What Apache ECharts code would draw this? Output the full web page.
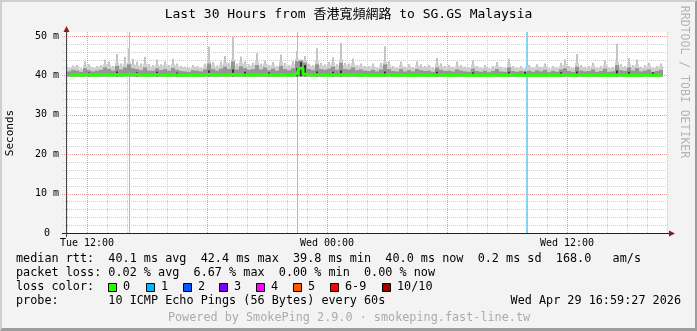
<!DOCTYPE html>
<html><head><meta charset="utf-8">
<script src="https://cdn.jsdelivr.net/npm/echarts@6/dist/echarts.min.js"></script>
<style>html,body{margin:0;padding:0;background:#f3f3f3}#c{width:697px;height:331px}</style>
</head><body><div id="c"></div><script>
// ---------------- data ----------------
const titleText = 'Last 30 Hours from 香港寬頻網路 to SG.GS Malaysia';
const xTickHours = [1, 13, 25];                 // hours after Tue 11:00
const xTickLabels = ['Tue 12:00', 'Wed 00:00', 'Wed 12:00'];
const yTickValues = [0, 10, 20, 30, 40, 50];    // ms
const yTickLabels = ['0', '10 m', '20 m', '30 m', '40 m', '50 m'];
const stepHours = 0.2;                          // one sample column = 12 min
const smokeBase = 39.6;                         // lowest ping (ms)
// median rtt per column (ms)
const medianRtt = [
 40.1,40.0,40.2,40.1,40.1,40.2,40.0,40.1,40.1,40.2,40.1,40.0,40.2,40.1,40.1,40.3,40.1,40.2,40.1,40.1,
 40.0,40.1,40.2,40.1,40.1,40.0,40.2,40.1,40.1,40.0,40.1,40.1,40.0,40.1,40.1,40.3,40.1,40.1,
 40.2,40.1,40.1,40.3,40.1,40.2,40.1,40.1,40.0,40.2,40.1,40.2,40.1,40.1,40.0,40.2,40.1,40.0,40.1,40.4,
 41.8,40.3,40.1,40.1,40.2,40.1,40.0,40.1,40.2,40.1,40.2,40.1,40.1,40.2,40.0,40.1,40.1,
 40.0,40.1,40.1,40.0,40.2,40.1,40.0,40.1,40.1,40.0,40.1,40.0,40.1,40.1,40.0,40.1,40.0,40.2,40.1,40.0,
 40.1,40.0,40.1,40.1,40.0,40.0,40.1,40.0,40.0,40.1,40.0,40.1,40.1,40.0,40.0,40.2,40.1,
 40.0,40.1,40.0,40.1,40.0,40.1,40.0,40.1,40.0,40.0,40.1,40.1,40.2,40.0,40.0,40.2,40.1,40.0,40.1,40.1,
 40.0,40.0,40.1,40.0,40.0,40.2,40.1,40.0,40.1,40.0,40.1,40.0,40.1,40.1,40.0,40.0,40.1
];
// inner (denser) smoke top per column (ms)
const smokeMid = [
 41.0,41.4,41.2,40.9,41.8,41.3,41.0,41.2,41.4,42.0,41.6,41.2,42.4,41.5,42.0,42.8,41.8,41.6,41.3,42.0,
 41.2,41.2,41.8,41.3,41.6,41.2,41.9,41.4,41.1,41.0,40.9,41.3,41.2,41.0,41.5,43.0,41.6,41.2,
 41.7,42.2,41.6,43.5,41.5,42.3,41.8,41.4,41.6,42.6,41.5,42.0,41.3,41.7,41.2,42.4,41.6,41.3,41.8,43.6,
 43.8,43.2,41.6,41.3,42.8,41.6,41.4,41.7,42.2,41.4,43.2,41.6,41.5,42.0,41.3,41.5,41.2,
 41.1,41.4,41.0,41.5,42.8,41.6,41.1,41.0,41.6,41.0,41.3,41.0,41.6,41.3,41.1,41.2,40.9,42.0,41.4,41.1,
 41.2,41.0,41.5,41.2,41.0,40.9,41.7,41.1,40.9,41.2,40.8,41.1,41.6,41.0,40.9,42.0,41.1,
 40.9,41.1,40.8,41.2,40.9,41.3,41.0,41.4,40.8,41.1,40.9,41.5,41.8,41.1,40.9,42.2,41.2,41.0,41.1,41.5,
 40.9,41.1,41.7,40.9,41.0,42.6,41.3,41.1,42.0,41.2,41.8,41.0,41.2,41.5,40.9,41.1,41.4
];
// outer smoke body top per column (ms)
const smokeBody = [
 41.8,42.2,42.3,41.6,42.6,42.4,41.8,42.1,42.3,42.8,42.7,42.1,43.2,42.5,43.0,43.4,42.9,42.6,42.4,43.0,
 42.3,42.2,42.8,42.4,42.7,42.2,42.9,42.5,42.1,41.9,41.7,42.2,42.1,41.8,42.5,43.6,42.7,42.2,
 42.7,43.3,42.6,44.0,42.5,43.4,42.9,42.4,42.6,43.6,42.5,43.0,42.3,42.7,42.1,43.5,42.6,42.3,42.8,44.2,
 43.9,43.8,42.6,42.3,43.6,42.6,42.4,42.7,43.3,42.4,44.0,42.6,42.5,43.1,42.3,42.5,42.1,
 42.0,42.4,41.8,42.5,43.4,42.7,42.0,41.8,42.6,41.9,42.3,41.8,42.6,42.3,42.0,42.2,41.7,43.0,42.4,42.0,
 42.2,41.9,42.5,42.2,41.9,41.8,42.7,42.0,41.8,42.2,41.6,42.0,42.5,41.9,41.8,43.0,42.0,
 41.7,42.0,41.6,42.2,41.8,42.3,41.9,42.4,41.6,42.0,41.8,42.4,42.8,42.0,41.8,43.2,42.2,41.9,42.0,42.5,
 41.8,42.0,42.7,41.8,41.9,43.4,42.3,42.0,43.0,42.2,42.8,41.9,42.2,42.5,41.8,42.0,42.4
];
// highest ping per column (ms)
const smokeMax = [
 42.0,42.5,42.6,41.8,43.5,42.8,42.0,42.4,42.6,44.0,43.5,42.4,45.4,43.0,44.7,46.8,44.2,43.5,43.0,44.7,
 42.9,42.6,44.0,42.8,43.5,42.6,44.2,43.0,42.4,42.2,41.9,42.6,42.4,42.0,43.0,47.3,43.4,42.5,
 43.5,44.9,43.2,49.8,43.0,44.8,43.6,42.8,43.2,45.7,43.0,43.8,42.6,43.4,42.4,45.3,43.2,42.6,43.6,46.2,
 44.0,44.9,43.0,42.6,46.9,43.2,42.8,43.4,44.6,42.8,48.2,43.2,43.0,44.2,42.6,43.0,42.4,
 42.4,43.0,42.0,43.2,47.4,43.6,42.4,42.0,43.5,42.2,42.8,42.0,43.6,42.8,42.4,42.6,42.0,44.4,43.0,42.4,
 42.6,42.2,43.5,42.6,42.2,42.0,43.8,42.4,42.0,42.6,41.8,42.4,43.4,42.2,42.0,44.2,42.4,
 42.0,42.4,41.8,42.6,42.0,42.8,42.2,43.0,41.8,42.4,42.0,43.2,44.0,42.4,42.0,45.4,42.6,42.2,42.4,43.2,
 42.0,42.4,43.8,42.0,42.2,48.0,42.8,42.4,44.4,42.6,44.0,42.2,42.6,43.2,42.0,42.4,43.0
];
// darkest smoke patches (column index, top ms)
const darkIdx = [5,12,17,22,27,35,41,44,50,57,58,59,62,66,68,79,92,101,110,114,123,127,137,140,146];
const darkTop = [40.7,41.0,40.8,40.9,40.7,41.2,41.5,40.9,40.8,41.8,43.4,42.6,41.0,40.9,41.2,41.0,40.9,40.8,40.9,41.0,40.8,41.0,41.2,40.9,40.8];
// packet loss events
const lossHours = [3.1, 11.5, 23.0];
const lossPct = [3.33, 3.33, 6.67];
// legend texts
const rttRow = 'median rtt:  40.1 ms avg  42.4 ms max  39.8 ms min  40.0 ms now  0.2 ms sd  168.0   am/s';
const lossRow = 'packet loss: 0.02 % avg  6.67 % max  0.00 % min  0.00 % now';
const colorRowLabel = 'loss color:';
const lossColorLabels = ['0', '1', '2', '3', '4', '5', '6-9', '10/10'];
const lossColors = ['#26ff00', '#00b8ff', '#0059ff', '#7e00ff', '#ff00ff', '#ff5500', '#ff0000', '#a10000'];
const probeRow = 'probe:       10 ICMP Echo Pings (56 Bytes) every 60s';
const dateText = 'Wed Apr 29 16:59:27 2026';
const poweredText = 'Powered by SmokePing 2.9.0 · smokeping.fast-line.tw';
const sideText = 'RRDTOOL / TOBI OETIKER';

// ---------------- layout / style ----------------
const MONO = '"DejaVu Sans Mono", "Noto Sans CJK TC", monospace';
const LEG_FONT = '11.8px ' + MONO;
const GRID_MINOR = '#cdcdcd', GRID_MAJOR = '#e79a9a';
const boxX = [108, 146, 183, 219, 256, 293, 330, 382];
const rowY = [259, 273, 287, 301];

const colT = i => (i + 0.5) * stepHours;
const hGridData = []; for (let v = 0; v <= 50; v += 2) hGridData.push([0, v]);
const vGridData = []; for (let h = 0; h <= 30; h += 1) vGridData.push([h, 0]);

function hLine(params, api) {
  const v = api.value(1), cs = params.coordSys;
  const y = Math.round(api.coord([0, v])[1]) + 0.5;
  const major = v % 10 === 0;
  return {type: 'line', silent: true,
    shape: {x1: cs.x - (major ? 5 : 4), y1: y, x2: cs.x + cs.width, y2: y},
    style: {stroke: major ? GRID_MAJOR : GRID_MINOR, lineWidth: 1, lineDash: [1, 1]}};
}
function vLine(params, api) {
  const h = api.value(0), cs = params.coordSys;
  const x = Math.round(api.coord([h, 0])[0]) + 0.5;
  const major = (h - 1) % 6 === 0;
  return {type: 'line', silent: true,
    shape: {x1: x, y1: cs.y, x2: x, y2: cs.y + cs.height},
    style: {stroke: major ? GRID_MAJOR : GRID_MINOR, lineWidth: 1, lineDash: [1, 1]}};
}
function smokeRect(color, halfW) {
  return function (params, api) {
    const t = api.value(0);
    const p0 = api.coord([t - halfW, api.value(1)]);
    const p1 = api.coord([t + halfW, api.value(2)]);
    return {type: 'rect', silent: true,
      shape: {x: p0[0], y: p1[1], width: p1[0] - p0[0], height: p0[1] - p1[1]},
      style: {fill: color}};
  };
}
function lossLine(params, api) {
  const t = api.value(0), pct = api.value(1), cs = params.coordSys;
  const x = Math.round(api.coord([t, 0])[0]);
  const big = pct > 5;
  return {type: 'line', silent: true,
    shape: {x1: big ? x : x + 0.5, y1: cs.y, x2: big ? x : x + 0.5, y2: cs.y + cs.height},
    style: {stroke: big ? '#86d3f3' : '#66d2f8', lineWidth: big ? 2 : 1}};
}

const series = [
  {type: 'custom', z: 1, renderItem: hLine, data: hGridData, encode: {x: 0, y: 1}},
  {type: 'custom', z: 1, renderItem: vLine, data: vGridData, encode: {x: 0, y: 1}},
  {type: 'custom', z: 2, renderItem: lossLine, data: lossHours.map((h, i) => [h, lossPct[i]]), encode: {x: 0, y: 1}},
  {type: 'custom', z: 3, renderItem: smokeRect('#c4c4c4', stepHours / 4),
    data: smokeMax.map((v, i) => [colT(i), smokeBase, v]), encode: {x: 0, y: [1, 2]}},
  {type: 'custom', z: 3, renderItem: smokeRect('#cfcfcf', stepHours / 2),
    data: smokeBody.map((v, i) => [colT(i), smokeBase, v]), encode: {x: 0, y: [1, 2]}},
  {type: 'custom', z: 4, renderItem: smokeRect('#959595', stepHours / 2),
    data: smokeMid.map((v, i) => [colT(i), smokeBase + 0.1, v]), encode: {x: 0, y: [1, 2]}},
  {type: 'custom', z: 5, renderItem: smokeRect('#333333', stepHours / 4),
    data: darkIdx.map((c, k) => [colT(c), smokeBase + 0.2, darkTop[k]]), encode: {x: 0, y: [1, 2]}},
  {type: 'line', z: 6, step: 'middle', symbol: 'none', silent: true,
    data: medianRtt.map((v, i) => [colT(i), v]),
    lineStyle: {color: '#26ff00', width: 3}}
];

const graphic = [];
// frame shading
graphic.push({type: 'polygon', shape: {points: [[0,0],[697,0],[695,2],[2,2],[2,329],[0,331]]}, style: {fill: '#cfcfcf'}, z: 100});
graphic.push({type: 'polygon', shape: {points: [[697,0],[697,331],[0,331],[2,328],[695,328],[695,2]]}, style: {fill: '#9c9c9c'}, z: 100});
// axes
graphic.push({type: 'line', shape: {x1: 62, y1: 233.5, x2: 670, y2: 233.5}, style: {stroke: '#222', lineWidth: 1}, z: 50});
graphic.push({type: 'line', shape: {x1: 66.5, y1: 237, x2: 66.5, y2: 30}, style: {stroke: '#444', lineWidth: 1}, z: 50});
graphic.push({type: 'polygon', shape: {points: [[63.5,32],[69.5,32],[66.5,26]]}, style: {fill: '#8f1c1c'}, z: 51});
graphic.push({type: 'polygon', shape: {points: [[669,230.5],[669,236.5],[675,233.5]]}, style: {fill: '#8f1c1c'}, z: 51});
// side labels
graphic.push({type: 'text', x: 10, y: 133, rotation: Math.PI / 2, z: 60,
  style: {text: 'Seconds', font: '11px ' + MONO, fill: '#000', align: 'center', verticalAlign: 'middle'}});
graphic.push({type: 'text', x: 684, y: 82, rotation: -Math.PI / 2, z: 60,
  style: {text: sideText, font: '11.5px ' + MONO, fill: '#b4b4b4', align: 'center', verticalAlign: 'middle'}});
// legend rows
[rttRow, lossRow, colorRowLabel, probeRow].forEach((t, r) => graphic.push({type: 'text', z: 60,
  style: {text: t, x: 16, y: rowY[r], font: LEG_FONT, fill: '#000', verticalAlign: 'middle'}}));
lossColorLabels.forEach((t, k) => {
  graphic.push({type: 'rect', z: 60, shape: {x: boxX[k] + 0.5, y: rowY[2] - 3.5, width: 8, height: 8},
    style: {fill: lossColors[k], stroke: '#000', lineWidth: 1}});
  graphic.push({type: 'text', z: 60,
    style: {text: t, x: boxX[k] + 15, y: rowY[2], font: LEG_FONT, fill: '#000', verticalAlign: 'middle'}});
});
graphic.push({type: 'text', z: 60, style: {text: dateText, x: 681, y: rowY[3], font: LEG_FONT, fill: '#000', align: 'right', verticalAlign: 'middle'}});
graphic.push({type: 'text', z: 60, style: {text: poweredText, x: 349, y: 318, font: LEG_FONT, fill: '#ababab', align: 'center', verticalAlign: 'middle'}});

const chart = echarts.init(document.getElementById('c'), null, {renderer: 'canvas'});
chart.setOption({
  animation: false,
  backgroundColor: '#f3f3f3',
  title: {text: titleText, left: 'center', top: 8, padding: 0,
    textStyle: {fontFamily: MONO, fontSize: 13, fontWeight: 'normal', color: '#000'}},
  grid: {left: 67, right: 30, top: 32, bottom: 98, show: true, backgroundColor: '#ffffff', borderWidth: 0},
  xAxis: {type: 'value', min: 0, max: 30, interval: 1,
    axisLine: {show: false}, axisTick: {show: false}, splitLine: {show: false},
    axisLabel: {margin: 5, fontSize: 10, fontFamily: MONO, color: '#000',
      formatter: v => { const k = xTickHours.indexOf(v); return k >= 0 ? xTickLabels[k] : ''; }}},
  yAxis: {type: 'value', min: 0, max: 51, interval: 10,
    axisLine: {show: false}, axisTick: {show: false}, splitLine: {show: false},
    axisLabel: {margin: 20, align: 'center', fontSize: 10, fontFamily: MONO, color: '#000',
      formatter: v => { const k = yTickValues.indexOf(v); return k >= 0 ? yTickLabels[k] : ''; }}},
  series: series,
  graphic: graphic
});
</script></body></html>
